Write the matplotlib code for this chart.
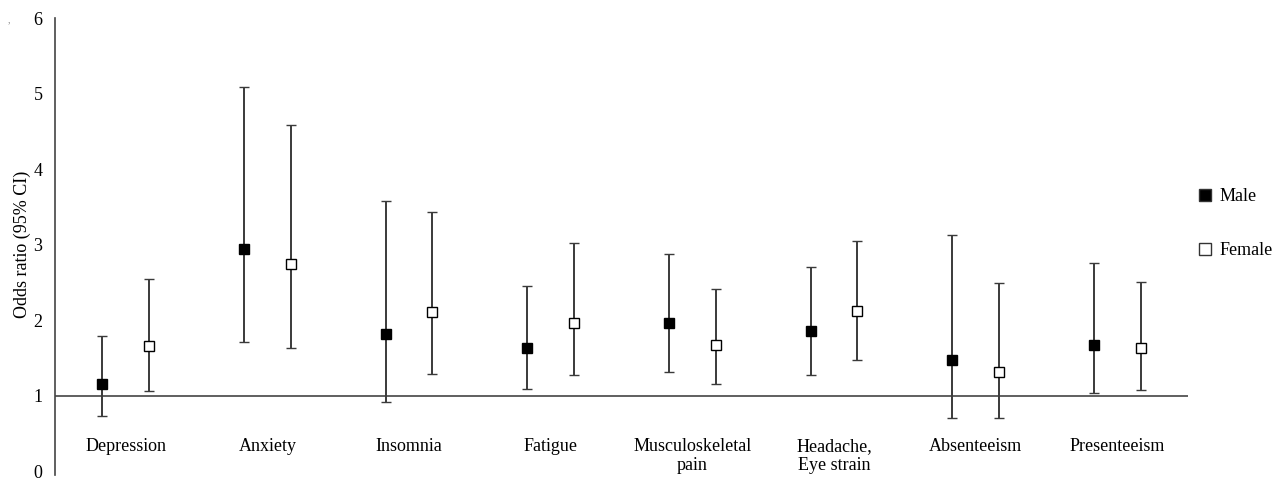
import numpy as np
import matplotlib.pyplot as plt
from matplotlib.lines import Line2D

categories = ["Depression", "Anxiety", "Insomnia", "Fatigue", "Musculoskeletal\npain",
              "Headache,\nEye strain", "Absenteeism", "Presenteeism"]

male_or = [1.16, 2.95, 1.82, 1.64, 1.96, 1.86, 1.47, 1.68]
male_lo = [0.74, 1.71, 0.92, 1.09, 1.32, 1.28, 0.71, 1.04]
male_hi = [1.79, 5.09, 3.58, 2.45, 2.88, 2.71, 3.13, 2.76]

female_or = [1.66, 2.74, 2.11, 1.97, 1.67, 2.12, 1.32, 1.64]
female_lo = [1.07, 1.64, 1.29, 1.28, 1.16, 1.47, 0.71, 1.08]
female_hi = [2.55, 4.59, 3.43, 3.03, 2.41, 3.05, 2.49, 2.51]

plt.rcParams["font.family"] = ["Liberation Serif", "DejaVu Serif"]
plt.rcParams["font.size"] = 13

line_col = "#3a3a3a"

fig = plt.figure(figsize=(12.85, 4.8), dpi=100)
ax = fig.add_axes([0.0428, 0.0175, 0.8817, 0.945])

x = np.arange(len(categories))
off = 0.165


def draw(xpos, est, lo, hi, face):
    est = np.array(est)
    err = [est - np.array(lo), np.array(hi) - est]
    ax.errorbar(xpos, est, yerr=err, fmt="s", ms=7, mfc=face, mec="black", mew=1.0,
                ecolor=line_col, elinewidth=1.4, capsize=3.8, capthick=1.8, zorder=3)


draw(x - off, male_or, male_lo, male_hi, "black")
draw(x + off, female_or, female_lo, female_hi, "white")

ax.axhline(1, color="#444444", lw=1.2, zorder=1)

ax.set_xlim(-0.5, 7.5)
ax.set_ylim(0, 6)
ax.set_yticks(range(7))
ax.tick_params(axis="y", length=0, pad=9)
ax.set_ylabel("Odds ratio (95% CI)", labelpad=2)

for s in ["top", "right", "bottom"]:
    ax.spines[s].set_visible(False)
ax.spines["left"].set_color("#444444")
ax.spines["left"].set_linewidth(1.2)
ax.spines["left"].set_bounds(-0.05, 6)

ax.set_xticks(x)
ax.set_xticklabels(categories, linespacing=1.1)
ax.spines["bottom"].set_position(("data", 1))
ax.tick_params(axis="x", length=0, pad=30)

handles = [
    Line2D([], [], ls="none", marker="s", ms=9, mfc="black", mec="#333333", mew=1.0),
    Line2D([], [], ls="none", marker="s", ms=9, mfc="white", mec="#333333", mew=1.0),
]
ax.legend(handles, ["Male", "Female"], loc="upper left",
          bbox_to_anchor=(1180 / 1285, 1 - 172 / 480),
          bbox_transform=fig.transFigure, frameon=False, labelspacing=2.05,
          handletextpad=0.3, handlelength=1.0)

fig.text(8 / 1285, 1 - 22 / 480, ",", fontsize=7, color="#888888")

fig.savefig("out.png", dpi=100)
